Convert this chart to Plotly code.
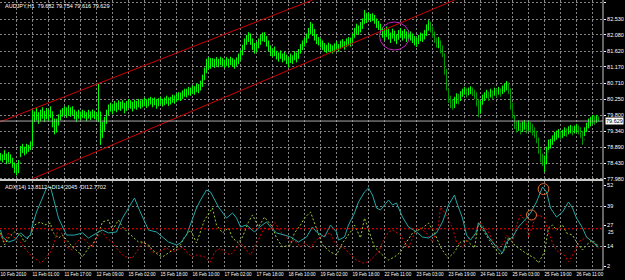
import plotly.graph_objects as go

# ---------------- price data (H1 bars, AUDJPY) ----------------
close = [
 78.60,78.55,78.66,78.48,78.62,78.50,78.40,78.30,78.20,78.45,
 78.80,78.85,78.75,78.88,78.85,78.95,79.80,79.75,79.85,79.70,
 79.80,79.90,79.75,79.85,79.78,79.90,79.60,79.45,79.55,79.70,
 79.85,79.90,79.95,79.85,79.95,79.88,79.92,79.80,79.75,79.82,
 79.78,79.85,79.80,79.75,79.82,79.78,79.85,79.80,79.75,79.80,
 79.30,79.45,79.60,79.85,79.95,80.05,79.98,80.08,80.02,80.10,
 80.05,80.12,80.00,80.08,80.15,80.10,80.05,80.12,80.08,80.15,
 80.10,80.15,80.20,80.12,80.18,80.22,80.15,80.20,80.10,80.18,
 80.22,80.15,80.20,80.25,80.18,80.22,80.28,80.25,80.30,80.35,
 80.32,80.40,80.45,80.42,80.50,80.48,80.55,80.50,80.60,80.55,
 80.65,80.80,81.00,81.20,81.30,81.25,81.30,81.25,81.32,81.28,
 81.35,81.30,81.26,81.33,81.28,81.35,81.30,81.25,81.32,81.40,
 81.55,81.70,81.85,81.95,82.05,81.95,81.80,81.70,81.75,81.85,
 81.95,82.05,82.00,81.90,81.75,81.60,81.55,81.62,81.50,81.45,
 81.52,81.42,81.48,81.38,81.30,81.42,81.38,81.50,81.45,81.55,
 81.70,81.80,81.90,82.00,82.15,82.30,82.20,82.05,81.95,81.90,
 81.85,81.78,81.72,81.68,81.75,81.70,81.65,81.72,81.78,81.70,
 81.80,81.85,81.78,81.85,81.90,81.88,82.00,82.15,82.25,82.20,
 82.30,82.40,82.60,82.55,82.62,82.55,82.60,82.52,82.40,82.35,
 82.25,82.15,82.05,82.18,82.10,82.00,82.12,82.05,81.95,82.08,
 82.15,82.05,82.12,82.02,82.10,82.05,81.98,81.90,81.85,81.95,
 82.05,82.00,82.10,82.25,82.40,82.30,82.15,81.95,81.85,81.90,
 81.75,81.55,81.10,80.60,80.30,80.15,80.05,80.20,80.30,80.25,
 80.38,80.45,80.50,80.42,80.48,80.52,80.45,80.38,80.20,79.95,
 80.10,80.25,80.35,80.40,80.32,80.45,80.38,80.48,80.42,80.50,
 80.45,80.52,80.58,80.65,80.55,80.10,79.85,79.55,79.45,79.50,
 79.40,79.48,79.52,79.42,79.50,79.45,79.38,79.30,79.15,78.80,
 78.60,78.45,78.50,78.75,78.95,79.00,79.10,79.20,79.25,79.30,
 79.22,79.28,79.35,79.30,79.38,79.42,79.35,79.40,79.45,79.38,
 79.30,79.10,79.35,79.45,79.55,79.62,79.70,79.65,79.72,79.629]
high = [
 78.72,78.68,78.80,78.70,78.75,78.68,78.58,78.45,78.40,78.52,
 78.92,78.98,78.90,78.98,78.95,79.05,79.95,79.90,80.00,79.88,
 79.95,80.02,79.92,80.00,79.95,80.05,79.90,79.70,79.70,79.82,
 79.95,80.00,80.05,80.02,80.08,80.02,80.05,79.95,79.90,79.95,
 79.90,79.95,79.92,79.88,79.95,79.90,79.96,79.92,79.88,80.71,
 79.90,79.60,79.75,79.95,80.10,80.15,80.12,80.20,80.15,80.22,
 80.18,80.22,80.15,80.20,80.25,80.22,80.18,80.24,80.20,80.26,
 80.22,80.25,80.30,80.25,80.28,80.32,80.28,80.30,80.25,80.28,
 80.32,80.26,80.30,80.35,80.30,80.32,80.38,80.36,80.42,80.45,
 80.44,80.50,80.55,80.55,80.60,80.58,80.65,80.62,80.70,80.68,
 80.78,80.95,81.15,81.40,81.45,81.42,81.42,81.40,81.45,81.40,
 81.46,81.42,81.38,81.45,81.40,81.46,81.42,81.38,81.44,81.55,
 81.65,81.80,81.98,82.08,82.16,82.12,81.98,81.85,81.88,81.98,
 82.08,82.15,82.16,82.05,81.92,81.78,81.70,81.75,81.62,81.58,
 81.64,81.55,81.60,81.52,81.45,81.55,81.50,81.62,81.58,81.68,
 81.82,81.92,82.00,82.12,82.28,82.45,82.40,82.25,82.10,82.02,
 81.98,81.92,81.85,81.80,81.86,81.82,81.78,81.84,81.90,81.82,
 81.92,81.96,81.90,81.98,82.02,82.00,82.12,82.28,82.40,82.35,
 82.45,82.55,82.79,82.70,82.72,82.68,82.70,82.65,82.55,82.48,
 82.40,82.30,82.22,82.32,82.25,82.15,82.26,82.20,82.10,82.22,
 82.28,82.20,82.25,82.18,82.22,82.18,82.12,82.05,82.00,82.08,
 82.15,82.12,82.22,82.38,82.50,82.45,82.32,82.18,82.00,82.02,
 81.92,81.78,81.55,81.10,80.55,80.35,80.25,80.32,80.42,80.40,
 80.48,80.55,80.60,80.56,80.58,80.62,80.58,80.52,80.45,80.25,
 80.20,80.38,80.45,80.52,80.46,80.55,80.50,80.58,80.55,80.60,
 80.56,80.64,80.70,80.77,80.72,80.55,80.15,79.80,79.62,79.65,
 79.58,79.62,79.66,79.58,79.64,79.60,79.55,79.45,79.35,79.15,
 78.85,78.70,78.65,78.90,79.10,79.12,79.22,79.32,79.36,79.40,
 79.35,79.38,79.45,79.42,79.48,79.52,79.48,79.50,79.55,79.50,
 79.45,79.35,79.45,79.58,79.70,79.75,79.80,79.78,79.80,79.754]
low = [
 78.50,78.45,78.52,78.40,78.45,78.42,78.30,78.15,78.08,78.15,
 78.60,78.72,78.65,78.70,78.75,78.80,78.90,79.60,79.65,79.55,
 79.62,79.70,79.60,79.68,79.62,79.72,79.45,79.25,79.30,79.50,
 79.65,79.75,79.80,79.72,79.78,79.75,79.80,79.68,79.60,79.70,
 79.65,79.72,79.70,79.62,79.70,79.66,79.72,79.68,79.65,79.60,
 78.95,79.15,79.35,79.55,79.80,79.90,79.82,79.92,79.88,79.95,
 79.92,79.98,79.85,79.92,80.00,79.98,79.90,79.98,79.95,80.02,
 79.98,80.02,80.05,80.00,80.05,80.10,80.02,80.08,79.98,80.05,
 80.10,80.04,80.08,80.12,80.06,80.10,80.15,80.12,80.18,80.22,
 80.20,80.26,80.32,80.30,80.36,80.35,80.40,80.38,80.45,80.42,
 80.50,80.60,80.80,81.00,81.10,81.12,81.18,81.14,81.20,81.16,
 81.22,81.18,81.14,81.20,81.15,81.22,81.18,81.12,81.20,81.25,
 81.35,81.50,81.65,81.80,81.88,81.80,81.65,81.55,81.60,81.70,
 81.80,81.90,81.88,81.75,81.62,81.48,81.45,81.48,81.38,81.32,
 81.40,81.30,81.35,81.25,81.15,81.28,81.25,81.36,81.30,81.40,
 81.55,81.65,81.75,81.85,81.98,82.10,82.05,81.92,81.82,81.78,
 81.72,81.65,81.60,81.56,81.62,81.58,81.55,81.60,81.66,81.60,
 81.68,81.72,81.66,81.74,81.78,81.75,81.85,82.00,82.10,82.08,
 82.15,82.25,82.40,82.42,82.50,82.45,82.48,82.40,82.28,82.22,
 82.12,82.00,81.92,82.02,81.95,81.85,81.98,81.90,81.82,81.95,
 82.00,81.92,81.98,81.88,81.95,81.92,81.85,81.78,81.74,81.82,
 81.90,81.88,81.95,82.05,82.20,82.15,82.00,81.85,81.72,81.70,
 81.55,81.45,80.95,80.50,80.15,80.00,79.95,80.00,80.12,80.10,
 80.20,80.32,80.38,80.30,80.36,80.40,80.34,80.25,80.05,79.74,
 79.85,80.10,80.20,80.28,80.20,80.30,80.25,80.35,80.30,80.38,
 80.32,80.40,80.45,80.50,80.40,79.95,79.70,79.40,79.30,79.35,
 79.25,79.32,79.38,79.28,79.35,79.30,79.22,79.15,79.00,78.70,
 78.45,78.35,78.18,78.40,78.80,78.85,78.95,79.05,79.10,79.15,
 79.10,79.15,79.20,79.18,79.25,79.28,79.22,79.28,79.30,79.25,
 79.15,78.95,79.20,79.32,79.42,79.48,79.55,79.52,79.58,79.616]
first_open = 78.65
last_open = 79.682

# ---------------- ADX(14) data: (bar, value) ----------------
adx_pts = [(0,24.2),(1,19.9),(4,16.8),(7,18),(10,22.4),(13,19.3),(15,21.1),(16,27.3),(18,35.3),(21,44),(23,50.1),(25,50.8),(27,41.5),(29,31.6),(33,21.1),(37,21.1),(41,22.4),(44,19.3),(49,23),(51,24.2),(54,22.4),(58,23),(61,31.6),(64,37.8),(67,44),(69,37.8),(72,29.2),(74,24.2),(78,23),(81,19.9),(84,16.8),(88,15),(90,16.2),(93,21.1),(95,27.3),(98,37.8),(100,42.7),(103,48.9),(105,47.7),(109,38.4),(113,31.6),(116,34.7),(118,31.6),(120,26.1),(123,27.3),(127,23),(129,25.5),(133,29.2),(135,26.1),(138,22.4),(142,21.1),(145,19.9),(149,16.8),(153,19.9),(156,26.1),(158,23),(162,19.9),(165,27.3),(168,23),(169,18),(172,19.9),(174,27.3),(177,34.7),(179,41.5),(182,47.7),(184,50.1),(186,45.8),(188,37.8),(190,36.6),(193,40.9),(194,42.7),(196,39.7),(198,40.9),(201,32.2),(204,26.1),(208,23),(211,19.9),(214,19.3),(218,22.4),(221,29.2),(224,39.7),(227,45.8),(228,41.5),(231,31.6),(233,21.1),(235,18),(238,23),(239,28.5),(241,26.1),(244,19.9),(248,13.7),(251,10),(253,16.8),(256,19.9),(259,26.1),(263,31.6),(265,34.7),(268,41.5),(271,50.8),(273,47.7),(275,37.8),(278,32.2),(281,35.3),(284,41.5),(286,37.8),(288,31.6),(291,25.5),(293,19.9),(296,16.8),(299,13.81)]
pdi_pts = [(0,22.4),(2,15),(4,19.3),(7,23),(10,21.1),(12,16.8),(15,21.1),(17,27.3),(20,29.2),(22,27.3),(25,28.5),(26,23),(29,19.3),(31,21.1),(34,16.8),(36,13.7),(39,10.6),(41,7.6),(44,13.1),(46,15),(49,22.4),(51,29.2),(54,30.4),(56,24.2),(59,30.4),(61,26.1),(64,22.4),(66,19.9),(69,16.8),(71,16.8),(74,15),(76,11.9),(79,8.8),(81,7.6),(84,10),(86,11.9),(90,15),(92,19.9),(95,24.2),(98,16.2),(100,23),(102,30.4),(106,37.8),(108,27.3),(111,22.4),(114,25.5),(116,19.3),(119,16.2),(121,19.9),(124,29.2),(126,33.5),(129,26.1),(132,32.2),(136,26.1),(138,19.3),(141,13.7),(145,15),(147,22.4),(150,27.3),(152,31.6),(155,35.3),(157,28.5),(159,21.1),(161,15),(165,10.6),(168,8.8),(171,16.2),(175,23),(177,27.3),(180,19.3),(182,31.6),(185,21.1),(187,13.7),(191,8.8),(194,5.7),(197,7.6),(200,10.6),(203,16.8),(206,22.4),(211,25.5),(214,28.5),(217,22.4),(220,13.7),(222,10),(224,7),(227,10.6),(230,16.8),(233,18),(237,13.1),(239,28.5),(242,23),(244,19.3),(247,13.1),(250,8.8),(253,13.7),(254,19.9),(257,15),(259,13.1),(262,10.6),(264,8.8),(267,7),(269,3.9),(272,10.6),(274,25.5),(276,27.3),(278,24.2),(281,27.3),(283,22.4),(286,21.1),(288,16.8),(291,11.9),(293,15),(296,18),(299,14.20)]
mdi_pts = [(0,21.1),(2,16.8),(4,22.4),(7,19.3),(10,16.8),(12,13.1),(15,8.8),(17,7),(20,3.9),(22,5.7),(25,10.6),(27,16.8),(29,25.5),(31,21.1),(33,13.7),(36,11.9),(38,16.8),(41,19.3),(43,16.8),(46,13.7),(48,19.3),(51,23),(53,19.3),(56,16.8),(58,13.1),(61,8.8),(63,7.6),(66,7),(68,10.6),(71,16.8),(73,15),(76,10.6),(78,10),(81,11.9),(83,13.1),(86,10.6),(88,11.9),(91,13.7),(93,10.6),(96,7.6),(98,8.8),(101,7.6),(102,7.6),(105,4.5),(107,10.6),(110,13.1),(112,10.6),(115,8.8),(117,11.9),(120,16.2),(122,13.1),(125,8.8),(127,13.7),(130,21.1),(132,25.5),(135,24.2),(137,29.2),(140,23),(142,21.1),(145,16.8),(147,18),(150,13.7),(152,16.2),(155,13.1),(157,16.8),(160,19.9),(162,21.1),(165,22.4),(167,16.8),(170,13.7),(172,13.1),(175,8.8),(178,5.7),(181,3.9),(184,4.5),(186,7),(189,10.6),(191,16.8),(194,23),(196,24.2),(200,21.1),(202,16.8),(204,13.1),(207,22.4),(210,25.5),(213,22.4),(216,16.8),(219,27.3),(220,38.4),(222,35.3),(224,30.4),(226,25.5),(228,16.8),(231,13.7),(234,19.3),(237,19.9),(239,29.2),(242,26.1),(244,23),(247,15),(249,13.1),(252,16.8),(253,21.1),(256,16.8),(258,27.3),(260,33.5),(263,29.2),(264,19.9),(267,30.4),(269,33.5),(272,31.6),(274,22.4),(277,13.7),(279,10.6),(282,8.8),(284,4.5),(287,10.6),(289,16.8),(293,19.9),(295,18),(299,12.77)]

# ---------------- axis labels ----------------
time_labels = ["10 Feb 2010","11 Feb 01:00","11 Feb 17:00","12 Feb 09:00","15 Feb 02:00",
               "15 Feb 18:00","16 Feb 10:00","17 Feb 02:00","17 Feb 18:00","18 Feb 10:00",
               "19 Feb 02:00","19 Feb 18:00","22 Feb 11:00","23 Feb 03:00","23 Feb 19:00",
               "24 Feb 11:00","25 Feb 03:00","25 Feb 19:00","26 Feb 11:00"]
price_ticks = [82.990,82.530,82.080,81.620,81.170,80.710,80.250,79.800,79.340,78.890,78.430,77.980]
adx_ticks = [52,39,27,14,2]
level = 25
current_price = 79.629

# ---------------- figure ----------------
n = len(close)
bars = list(range(n))
opens = [first_open] + close[:-2] + [last_open]

LIME = "#00ff00"
DKGREEN = "#009a00"
GRID = "#858585"
FONT = "Liberation Sans, Arial"
FS = 5.5
FSX = 4.6
split = 215

fig = go.Figure()
fig.add_trace(go.Ohlc(x=bars[:split], open=opens[:split], high=high[:split], low=low[:split],
                      close=close[:split], tickwidth=0.25,
                      increasing=dict(line=dict(color=LIME, width=1)),
                      decreasing=dict(line=dict(color=LIME, width=1)),
                      showlegend=False, hoverinfo="skip", xaxis="x", yaxis="y"))
fig.add_trace(go.Ohlc(x=bars[split:], open=opens[split:], high=high[split:], low=low[split:],
                      close=close[split:], tickwidth=0.25,
                      increasing=dict(line=dict(color=LIME, width=1)),
                      decreasing=dict(line=dict(color=DKGREEN, width=1)),
                      showlegend=False, hoverinfo="skip", xaxis="x", yaxis="y"))

def unzip(pts):
    return [p[0] for p in pts], [p[1] for p in pts]

ax, ay = unzip(adx_pts)
px_, py_ = unzip(pdi_pts)
mx, my = unzip(mdi_pts)
fig.add_trace(go.Scatter(x=mx, y=my, mode="lines", line=dict(color="#e00000", width=1, dash="2px,2px"),
                         showlegend=False, hoverinfo="skip", xaxis="x2", yaxis="y2"))
fig.add_trace(go.Scatter(x=px_, y=py_, mode="lines", line=dict(color="#9acd32", width=1, dash="2px,2px"),
                         showlegend=False, hoverinfo="skip", xaxis="x2", yaxis="y2"))
fig.add_trace(go.Scatter(x=ax, y=ay, mode="lines", line=dict(color="#20a8a8", width=1),
                         showlegend=False, hoverinfo="skip", xaxis="x2", yaxis="y2"))

xrange_ = [-0.25, 301.25]
label_bars = list(range(0, n, 16))[:len(time_labels)]
minor_bars = list(range(8, n, 16))

common_x = dict(range=xrange_, showgrid=True, gridcolor=GRID, gridwidth=1, griddash="2px,2px",
                zeroline=False, tickvals=label_bars, showline=False,
                minor=dict(tickvals=minor_bars, showgrid=True, gridcolor=GRID, griddash="2px,2px", ticks=""))

fig.update_layout(
    width=625, height=280,
    margin=dict(l=0, r=22, t=0, b=10),
    paper_bgcolor="black", plot_bgcolor="black",
    font=dict(family=FONT, size=FS, color="white"),
    xaxis=dict(**common_x, domain=[0, 1], anchor="y", showticklabels=False, ticks="",
               rangeslider=dict(visible=False)),
    xaxis2=dict(**common_x, domain=[0, 1], anchor="y2", matches="x",
                ticktext=time_labels, ticklabelposition="outside right", ticks="",
                tickangle=0, tickfont=dict(size=FSX, color="white", family=FONT)),
    yaxis=dict(domain=[90/270, 1], range=[77.951, 83.075], side="right", anchor="x",
               tickvals=price_ticks, ticktext=[f"{v:.3f}" for v in price_ticks],
               showgrid=True, gridcolor=GRID, griddash="2px,2px", zeroline=False,
               ticks="outside", ticklen=2, tickcolor="white",
               tickfont=dict(size=FS, color="white", family=FONT)),
    yaxis2=dict(domain=[0, 89/270], range=[-0.47, 54.47], side="right", anchor="x2",
                tickvals=adx_ticks, ticktext=[str(v) for v in adx_ticks],
                showgrid=False, zeroline=False, ticks="outside", ticklen=2, tickcolor="white",
                tickfont=dict(size=FS, color="white", family=FONT),
                minor=dict(tickvals=[39, 14], showgrid=True, gridcolor=GRID, griddash="2px,2px", ticks="")),
)

shapes = []
# channel lines
shapes.append(dict(type="line", xref="x", yref="y", x0=-0.5, y0=79.60, x1=156, y1=83.075,
                   line=dict(color="#d00000", width=1)))
shapes.append(dict(type="line", xref="x", yref="y", x0=14.5, y0=77.951, x1=227, y1=83.075,
                   line=dict(color="#d00000", width=1)))
# current price line
shapes.append(dict(type="line", xref="paper", yref="y", x0=0, x1=1, y0=current_price, y1=current_price,
                   line=dict(color="#a8a8a8", width=1)))
# magenta ellipse
shapes.append(dict(type="circle", xref="x", yref="y", x0=189.5, x1=204.5, y0=81.65, y1=82.45,
                   line=dict(color="#c020c0", width=1)))
# ADX level
shapes.append(dict(type="line", xref="paper", yref="y2", x0=0, x1=1, y0=level, y1=level,
                   line=dict(color="#ff0000", width=1, dash="2px,2px")))
# orange circles
shapes.append(dict(type="circle", xref="x2", yref="y2", x0=268.8, x1=274.2, y0=46.1, y1=52.9,
                   line=dict(color="#e07030", width=1)))
shapes.append(dict(type="circle", xref="x2", yref="y2", x0=263, x1=268, y0=30.4, y1=36.6,
                   line=dict(color="#e07030", width=1)))
# frame
shapes.append(dict(type="line", xref="paper", yref="paper", x0=0, x1=1, y0=90/270, y1=90/270,
                   line=dict(color="#c8c8c8", width=2)))
shapes.append(dict(type="line", xref="paper", yref="paper", x0=1, x1=1, y0=0, y1=1,
                   line=dict(color="#c8c8c8", width=1)))
shapes.append(dict(type="line", xref="paper", yref="paper", x0=0, x1=1, y0=0, y1=0,
                   line=dict(color="#c8c8c8", width=1)))
fig.update_layout(shapes=shapes)

fig.add_annotation(xref="paper", yref="paper", x=0.005, y=1, xanchor="left", yanchor="top",
                   text="AUDJPY,H1  79.682 79.754 79.616 79.629", showarrow=False,
                   font=dict(size=FS, color="white", family=FONT), yshift=-1)
fig.add_annotation(xref="paper", yref="paper", x=0.005, y=89/270, xanchor="left", yanchor="top",
                   text="ADX(14) 13.8112 +DI14.2045 -DI12.7702", showarrow=False,
                   font=dict(size=FS, color="white", family=FONT), yshift=-1)
fig.add_annotation(xref="paper", yref="y", x=1, y=current_price, xanchor="left", yanchor="middle",
                   text=f"{current_price:.3f}", showarrow=False, bgcolor="white", borderpad=0,
                   font=dict(size=FS, color="black", family=FONT), xshift=2)
# level label for the ADX 25 line, nudged below the 27 tick label
fig.add_annotation(xref="paper", yref="y2", x=1, y=level, xanchor="left", yanchor="top",
                   text=str(level), showarrow=False, borderpad=0,
                   font=dict(size=5, color="white", family=FONT), xshift=4, yshift=1)

fig.write_html("out.html")
